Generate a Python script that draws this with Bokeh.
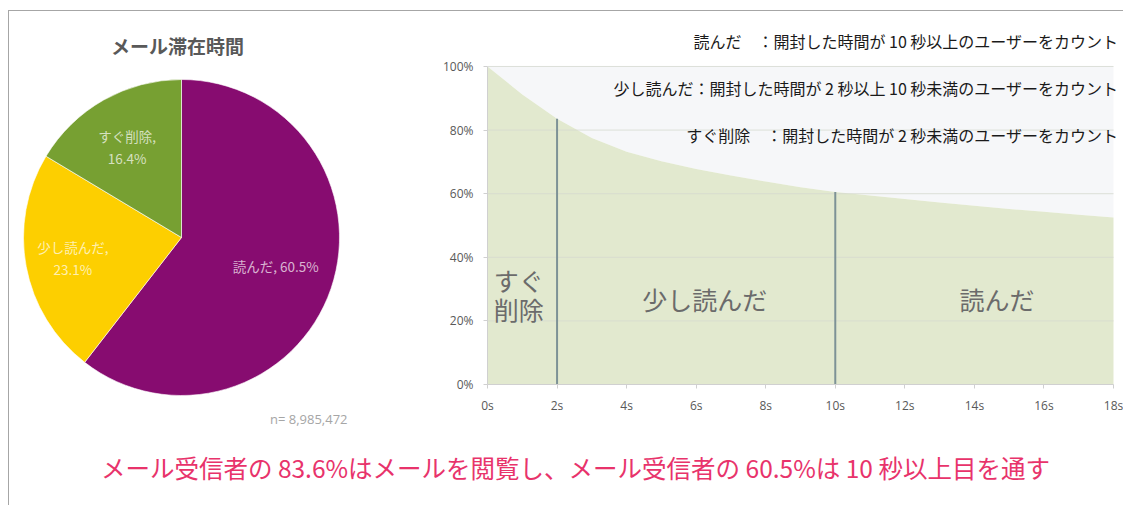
import math
from bokeh.plotting import figure
from bokeh.models import Range1d, ColumnDataSource, FixedTicker
from bokeh.layouts import column, row
from bokeh.embed import file_html
from bokeh.resources import INLINE
from bokeh.core.properties import value

# ---------------- data ----------------
pie_title = "メール滞在時間"
pie_categories = ["読んだ", "少し読んだ", "すぐ削除"]
pie_shares = [60.5, 23.1, 16.4]
pie_labels = ["読んだ, 60.5%", "少し読んだ,\n23.1%", "すぐ削除,\n16.4%"]
pie_colors = ["#870c70", "#fdcf00", "#77a032"]
sample_note = "n= 8,985,472"

seconds = list(range(19))
retained = [1.00, 0.912, 0.836, 0.775, 0.732, 0.702, 0.678, 0.657, 0.638, 0.620,
            0.605, 0.594, 0.583, 0.572, 0.562, 0.552, 0.543, 0.534, 0.525]
x_ticks = [0, 2, 4, 6, 8, 10, 12, 14, 16, 18]
x_tick_labels = ["0s", "2s", "4s", "6s", "8s", "10s", "12s", "14s", "16s", "18s"]
y_ticks = [0, 0.2, 0.4, 0.6, 0.8, 1.0]
y_tick_labels = ["0%", "20%", "40%", "60%", "80%", "100%"]
boundaries = [2, 10]
zone_labels = ["すぐ\n削除", "少し読んだ", "読んだ"]
zone_label_x = [0.9, 6.25, 14.65]
zone_label_y = [0.283, 0.27, 0.27]
definitions = [
    "読んだ　：開封した時間が 10 秒以上のユーザーをカウント",
    "少し読んだ：開封した時間が 2 秒以上 10 秒未満のユーザーをカウント",
    "すぐ削除　：開封した時間が 2 秒未満のユーザーをカウント",
]
headline = "メール受信者の 83.6%はメールを閲覧し、メール受信者の 60.5%は 10 秒以上目を通す"

JP = "Noto Sans CJK JP"


def no_align(p):
    try:
        p.frame_align = False
    except Exception:
        pass


# ---------------- pie figure ----------------
PW, PH = 370, 427
pie = figure(width=PW, height=PH, x_range=Range1d(0, PW), y_range=Range1d(0, PH),
             output_backend="svg", toolbar_location=None, min_border=0)
no_align(pie)
pie.axis.visible = False
pie.grid.visible = False
pie.outline_line_color = None

cx, cy, R = 172, 201, 158
label_r = [0.63, 0.70, 0.70]
label_shift = [4, 0, -6]
total = sum(pie_shares)
starts, ends, lx, ly = [], [], [], []
cum = 0.0
for s, fr, sh in zip(pie_shares, label_r, label_shift):
    a0 = math.pi / 2 - 2 * math.pi * cum / total
    cum += s
    a1 = math.pi / 2 - 2 * math.pi * cum / total
    starts.append(a1)
    ends.append(a0)
    mid = (a0 + a1) / 2
    lx.append(cx + fr * R * math.cos(mid))
    ly.append(cy + fr * R * math.sin(mid) + sh)

src = ColumnDataSource(dict(start=starts, end=ends, color=pie_colors,
                            lx=lx, ly=ly, label=pie_labels, cat=pie_categories))
pie.wedge(x=cx, y=cy, radius=R, start_angle="start", end_angle="end",
          direction="anticlock", fill_color="color", line_color="white",
          line_width=0.6, source=src)
pie.text(x="lx", y="ly", text="label", source=src, text_align="center",
         text_baseline="middle", text_color="white", text_alpha=0.7,
         text_font=value(JP), text_font_size="13.5px", text_line_height=1.1)
pie.text(x=[168], y=[393], text=[pie_title], text_align="center",
         text_baseline="middle", text_color="#595959", text_font=value(JP),
         text_font_size="19px", text_font_style="bold")
pie.text(x=[338], y=[20], text=[sample_note], text_align="right",
         text_baseline="middle", text_color="#a6a6a6", text_font=value("Open Sans"),
         text_font_size="13px")

# ---------------- area figure ----------------
AW, AH = 744, 427
area = figure(width=AW, height=AH, x_range=Range1d(0, 18.1725),
              y_range=Range1d(0, 1.1572),
              output_backend="svg", toolbar_location=None,
              min_border_left=108, min_border_right=4, min_border_top=5,
              min_border_bottom=54)
no_align(area)
area.background_fill_color = "white"
area.border_fill_color = "white"
area.outline_line_color = None
area.grid.visible = False

area.varea(x=seconds, y1=retained, y2=[1.0] * len(seconds), fill_color="#f6f7f9")
area.varea(x=seconds, y1=[0] * len(seconds), y2=retained, fill_color="#e2e9cf")

gsrc = ColumnDataSource(dict(y=y_ticks))
area.segment(x0=seconds[0], y0="y", x1=seconds[-1], y1="y", source=gsrc,
             line_color="#d6d9d0", line_width=1, line_alpha=0.8)

bsrc = ColumnDataSource(dict(x=boundaries,
                             top=[retained[seconds.index(b)] for b in boundaries]))
area.segment(x0="x", y0=0, x1="x", y1="top", source=bsrc,
             line_color="#7d9296", line_width=2)

area.text(x=zone_label_x, y=zone_label_y, text=zone_labels, text_align="center",
          text_baseline="middle", text_color="#6b6b6b", text_font=value(JP),
          text_font_size="25px", text_line_height=0.83)

def_x = [18.14] * 3
def_y = [1.0786, 0.931, 0.783]
area.text(x=def_x, y=def_y, text=definitions, text_align="right",
          text_baseline="middle", text_color="#1a1a1a", text_font=value(JP),
          text_font_size="16px")

area.xaxis.ticker = FixedTicker(ticks=x_ticks)
area.yaxis.ticker = FixedTicker(ticks=y_ticks)
area.xaxis.major_label_overrides = dict(zip(x_ticks, x_tick_labels))
area.yaxis.major_label_overrides = dict(zip(y_ticks, y_tick_labels))
area.xaxis.bounds = (x_ticks[0], x_ticks[-1])
area.yaxis.bounds = (y_ticks[0], y_ticks[-1])
for ax in (area.xaxis, area.yaxis):
    ax.axis_line_color = "#d0d0d0"
    ax.major_tick_line_color = "#d0d0d0"
    ax.minor_tick_line_color = None
    ax.major_tick_in = 0
    ax.major_tick_out = 4
    ax.major_label_text_color = "#595959"
    ax.major_label_text_font = "Open Sans"
    ax.major_label_text_font_size = "12px"
area.xaxis.major_label_standoff = 8
area.yaxis.major_label_standoff = 10

# ---------------- headline figure ----------------
BW, BH = 1114, 67
bottom = figure(width=BW, height=BH, x_range=Range1d(0, 1), y_range=Range1d(0, 1),
                output_backend="svg", toolbar_location=None, min_border=0)
no_align(bottom)
bottom.axis.visible = False
bottom.grid.visible = False
bottom.outline_line_color = None
bottom.text(x=[0.508], y=[0.567], text=[headline], text_align="center",
            text_baseline="middle", text_color="#e8336b", text_font=value(JP),
            text_font_size="24.5px")

layout = column(row(pie, area), bottom,
                styles={"border-left": "1px solid #a6a6a6",
                        "border-top": "1px solid #a6a6a6",
                        "margin-left": "8px", "margin-top": "10px"})

open("out.html", "w").write(file_html(layout, INLINE))
